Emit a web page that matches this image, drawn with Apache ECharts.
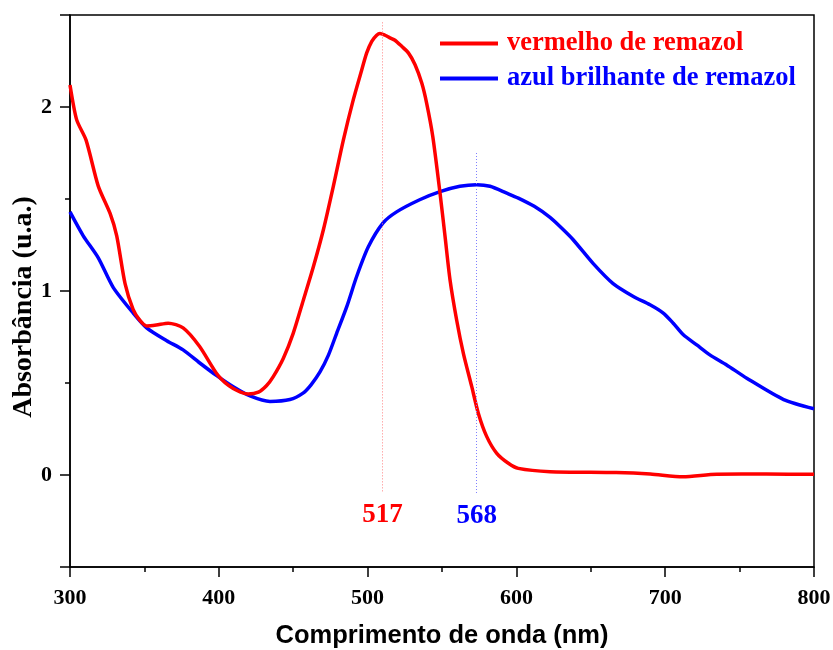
<!DOCTYPE html>
<html>
<head>
<meta charset="utf-8">
<script src="https://cdn.jsdelivr.net/npm/echarts@6/dist/echarts.min.js"></script>
<style>html,body{margin:0;padding:0;background:#fff;}#c{width:833px;height:650px;}</style>
</head>
<body>
<div id="c"></div>
<script>
// ---- data ----
const redName = 'vermelho de remazol';
const blueName = 'azul brilhante de remazol';
const redX = [300,304.5,310.8,319,327,331.4,337,342.4,347,351.5,358,366,376,387,399.6,409.7,419.8,426.6,432,436.6,443.4,450,456.8,463.5,470.2,477,483.7,490.4,496,499.4,502.8,506.1,508.3,511.7,515,518.4,522.9,527.4,531.9,536.4,539.7,543.8,548.7,552,555.4,559.9,564.4,570,574.4,580,586.8,594.6,601.3,622.6,667,690,712,734.6,768,800];
const redY = [2.12,1.93,1.82,1.57,1.42,1.30,1.04,0.90,0.84,0.81,0.815,0.825,0.80,0.70,0.54,0.47,0.44,0.45,0.485,0.535,0.635,0.77,0.95,1.13,1.33,1.57,1.82,2.04,2.20,2.294,2.357,2.39,2.40,2.39,2.376,2.363,2.33,2.294,2.23,2.13,2.02,1.84,1.53,1.30,1.06,0.84,0.66,0.48,0.336,0.21,0.118,0.064,0.036,0.018,0.013,0.005,-0.01,0.004,0.005,0.004];
const blueX = [300,308.9,319,329,342.5,351.5,365,376,387,398.6,409.7,421,434.4,447.8,456.6,462,468,473.6,479.2,486,492.7,500.5,510.4,519.5,535,548.7,562,573.3,582.3,593.5,601.3,612,622.6,630,638,651.5,665,678.6,689.8,698.7,705.4,712.2,721.2,730,741.3,754.8,779.6,800];
const blueY = [1.43,1.30,1.18,1.02,0.88,0.80,0.73,0.68,0.61,0.54,0.48,0.43,0.40,0.41,0.445,0.49,0.56,0.65,0.77,0.915,1.08,1.24,1.37,1.43,1.496,1.54,1.569,1.578,1.569,1.532,1.505,1.46,1.40,1.345,1.28,1.15,1.04,0.97,0.925,0.88,0.825,0.762,0.707,0.653,0.598,0.526,0.41,0.36];
const peakLineX = [510, 573.3];
const peakLineTop = [2.46, 1.75];
const peakLineBottom = [-0.095, -0.1];
const peakLabels = ['517', '568'];
const xTicks = [300, 400, 500, 600, 700, 800];
const yTicks = [0, 1, 2];

const serif = '"Liberation Serif","Times New Roman",serif';
const sans = '"Liberation Sans",Arial,sans-serif';

const zip = (xs, ys) => xs.map((x, i) => [x, ys[i]]);

function peakLine(i, color, lineColor) {
  return {
    silent: true,
    symbol: 'none',
    lineStyle: { type: [1, 2], width: 1, color: lineColor },
    label: {
      show: true, position: 'end', distance: 9,
      formatter: peakLabels[i], color: color,
      fontFamily: serif, fontWeight: 'bold', fontSize: 27
    },
    data: [[{ coord: [peakLineX[i], peakLineTop[i]] }, { coord: [peakLineX[i], peakLineBottom[i]] }]]
  };
}

const chart = echarts.init(document.getElementById('c'), null, { renderer: 'canvas' });
chart.setOption({
  animation: false,
  backgroundColor: '#fff',
  grid: { left: 70, right: 19, top: 15, bottom: 83, containLabel: false, outerBoundsMode: 'none',
    show: true, borderColor: '#000', borderWidth: 1.5, backgroundColor: 'transparent' },
  legend: {
    orient: 'vertical', left: 435, top: 25, itemWidth: 58, itemHeight: 4, itemGap: 8,
    icon: 'rect',
    textStyle: { fontFamily: serif, fontWeight: 'bold', fontSize: 26.5, padding: [0, 0, 0, 4] },
    data: [
      { name: redName, textStyle: { color: '#ff0000' } },
      { name: blueName, textStyle: { color: '#0000ff' } }
    ]
  },
  xAxis: {
    type: 'value', min: 300, max: 800, interval: 100,
    name: 'Comprimento de onda (nm)', nameLocation: 'middle', nameGap: 56,
    nameTextStyle: { fontFamily: sans, fontWeight: 'bold', fontSize: 25.5, color: '#000' },
    axisLine: { show: true, onZero: false, lineStyle: { color: '#000', width: 1.5 } },
    axisTick: { show: true, inside: false, length: 10, lineStyle: { color: '#000', width: 1.5 } },
    minorTick: { show: true, splitNumber: 2, length: 5, lineStyle: { color: '#000', width: 1.5 } },
    axisLabel: {
      margin: 20, color: '#000', fontFamily: serif, fontWeight: 'bold', fontSize: 22,
      formatter: v => (xTicks.indexOf(v) >= 0 ? String(v) : '')
    },
    splitLine: { show: false }
  },
  yAxis: {
    type: 'value', min: -0.5, max: 2.5, splitNumber: 3,
    axisLine: { show: true, onZero: false, lineStyle: { color: '#000', width: 1.5 } },
    axisTick: { show: true, inside: false, length: 10, lineStyle: { color: '#000', width: 1.5 } },
    minorTick: { show: true, splitNumber: 2, length: 5, lineStyle: { color: '#000', width: 1.5 } },
    axisLabel: {
      margin: 18, color: '#000', fontFamily: serif, fontWeight: 'bold', fontSize: 22,
      formatter: v => (yTicks.indexOf(v) >= 0 ? String(v) : '')
    },
    splitLine: { show: false }
  },
  graphic: [{
    type: 'text', x: 24, y: 307, rotation: Math.PI / 2,
    style: { text: 'Absorbância (u.a.)', align: 'center', verticalAlign: 'middle',
      font: 'bold 28px ' + serif, fill: '#000' }
  }],
  series: [
    {
      name: redName, type: 'line', data: zip(redX, redY), showSymbol: false,
      smooth: 0.25, color: '#ff0000',
      lineStyle: { width: 3.5, color: '#ff0000' }, z: 3,
      markLine: peakLine(0, '#ff0000', '#ff8080')
    },
    {
      name: blueName, type: 'line', data: zip(blueX, blueY), showSymbol: false,
      smooth: 0.25, color: '#0000ff',
      lineStyle: { width: 3.5, color: '#0000ff' }, z: 2,
      markLine: peakLine(1, '#0000ff', '#8080ff')
    }
  ]
});
</script>
</body>
</html>
